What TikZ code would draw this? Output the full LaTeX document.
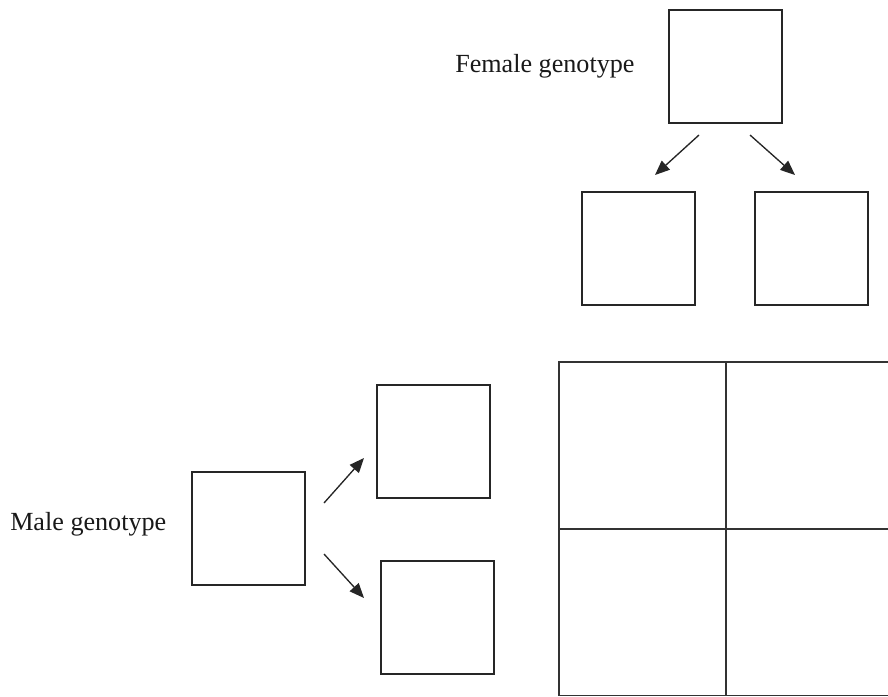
\documentclass[tikz,border=0pt]{standalone}
\usepackage{fontspec}
\setmainfont{Liberation Serif}
\usetikzlibrary{arrows.meta}
\begin{document}
\begin{tikzpicture}[x=0.75pt,y=-0.75pt,
  genebox/.style={draw=black!85, line width=1.5pt, minimum width=84.75pt, minimum height=84.75pt, inner sep=0pt, outer sep=0pt},
  lbl/.style={font=\fontsize{19.6}{24}\selectfont, inner sep=0pt, anchor=base west, text=black!90},
  arr/.style={draw=black!85, line width=1pt, -{Triangle[length=11pt,width=9pt]}},
  gridline/.style={draw=black!80, line width=0.9pt}]
\useasboundingbox (0,0) rectangle (888,696);
\fill[white] (0,0) rectangle (888,696);
% female side
\node[genebox] (fem) at (725.5,66.5) {};
\node[genebox] (fl) at (638,248.5) {};
\node[genebox] (fr) at (811,248.5) {};
\node[lbl] (femtxt) at (455,72) {Female genotype};
\coordinate (fa1s) at (699,135);
\coordinate (fa1e) at (655,175);
\coordinate (fa2s) at (750,135);
\coordinate (fa2e) at (795,175);
\draw[arr] (fa1s) -- (fa1e);
\draw[arr] (fa2s) -- (fa2e);
% male side
\node[genebox] (mal) at (248.5,528.5) {};
\node[genebox] (mu) at (433.5,441.5) {};
\node[genebox] (md) at (437.5,617.5) {};
\node[lbl] (maltxt) at (10,530) {Male genotype};
\coordinate (ma1s) at (324,503);
\coordinate (ma1e) at (364,458);
\coordinate (ma2s) at (324,554);
\coordinate (ma2e) at (364,598);
\draw[arr] (ma1s) -- (ma1e);
\draw[arr] (ma2s) -- (ma2e);
% punnett grid
\begin{scope}
\clip (0,0) rectangle (888,696);
\draw[gridline] (559,362) rectangle (893,695.5);
\draw[gridline] (726,362) -- (726,696);
\draw[gridline] (559,529) -- (893,529);
\end{scope}
\end{tikzpicture}
\end{document}
